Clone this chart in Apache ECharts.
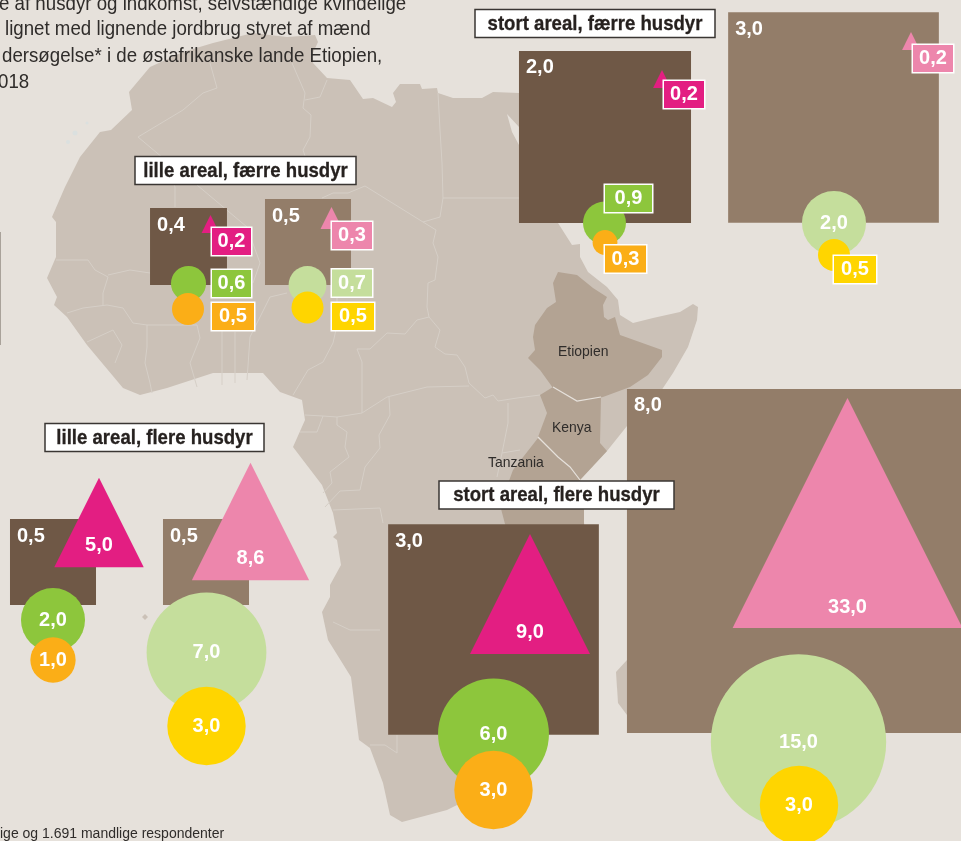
<!DOCTYPE html>
<html>
<head>
<meta charset="utf-8">
<title>Husdyr og indkomst</title>
<script src="https://cdn.jsdelivr.net/npm/echarts@6/dist/echarts.min.js"></script>
<style>
    html, body { margin: 0; padding: 0; background: #e6e1db; }
    #chart { width: 961px; height: 841px; overflow: hidden; }
</style>
</head>
<body>
<div id="chart"></div>
<script>
// values, one per panel block, in this order:
// lille/færre kvinder, lille/færre mænd, stort/færre kvinder, stort/færre mænd,
// lille/flere kvinder, lille/flere mænd, stort/flere kvinder, stort/flere mænd
var squareValues = [0.4, 0.5, 2.0, 3.0, 0.5, 0.5, 3.0, 8.0];
var triangleValues = [0.2, 0.3, 0.2, 0.2, 5.0, 8.6, 9.0, 33.0];
var bigCircleValues = [0.6, 0.7, 0.9, 2.0, 2.0, 7.0, 6.0, 15.0];
var smallCircleValues = [0.5, 0.5, 0.3, 0.5, 1.0, 3.0, 3.0, 3.0];

var panelTitles = ['lille areal, færre husdyr', 'stort areal, færre husdyr', 'lille areal, flere husdyr', 'stort areal, flere husdyr'];
var countryNames = ['Etiopien', 'Kenya', 'Tanzania'];
var introLines = [
    'e af husdyr og indkomst, selvstændige kvindelige',
    'lignet med lignende jordbrug styret af mænd',
    'dersøgelse* i de østafrikanske lande Etiopien,',
    '018'
];
var footerLine = 'ige og 1.691 mandlige respondenter';

// layout (page pixels), separate from the values
var squareAt = [[188.5, 246.5], [308, 242], [605, 137], [833.5, 117.5], [53, 562], [206, 562], [493.5, 629.5], [799, 561]];
var triangleAt = [[210.5, 224], [331.5, 218], [662, 79], [911, 41], [99, 522.5], [250.5, 521.5], [530, 594], [847.5, 513]];
var bigCircleAt = [[188.5, 283.5], [307.5, 285], [604.5, 223], [834, 223], [53, 620], [206.5, 652.5], [493.5, 734], [798.5, 742]];
var smallCircleAt = [[188, 309], [307.5, 307.5], [605, 242.5], [834, 255], [53, 660], [206.5, 726], [493.5, 790], [799, 805]];
// [dx, dy, box width] for a boxed label, [dx, dy] for a plain one
var triangleLabel = [[21, 17.5, 41], [20.5, 17.5, 42], [22, 15.5, 42], [22, 17.5, 42], [0, 22.5], [0, 36.5], [0, 38], [0, 94]];
var bigCircleLabel = [[43, 0, 41], [44.5, -2, 42], [24, -24.5, 49], [0, 0], [0, 0], [0, 0], [0, 0], [0, 0]];
var smallCircleLabel = [[45, 7.5, 44], [45.5, 9, 44], [20.5, 16.5, 43], [21, 14.5, 44], [0, 0], [0, 0], [0, 0], [0, 0]];

var squareColors = ['#6f5846', '#937d69'];
var triangleColors = ['#e31e82', '#ed86ac'];
var bigCircleColors = ['#8dc63c', '#c5de9c'];
var smallCircleColors = ['#fbae17', '#ffd500'];

var SQUARE_K = 14800, TRIANGLE_K = 1600, CIRCLE_K = 2050;
var NUM_FONT = '"Liberation Sans", Arial, sans-serif';
var TEXT_FONT = '"Liberation Sans", Arial, sans-serif';

function fmt(v) {
    return v.toFixed(1).replace('.', ',');
}

function markData(values, at, colors, labels) {
    return values.map(function (v, i) {
        var item = {
            value: [at[i][0], at[i][1], v],
            itemStyle: { color: colors[i % 2], opacity: 1 }
        };
        if (labels) {
            var l = labels[i];
            item.label = { offset: [l[0], l[1]] };
            if (l[2]) {
                item.label.backgroundColor = colors[i % 2];
                item.label.borderColor = '#fff';
                item.label.borderWidth = 1.5;
                item.label.width = l[2] - 2;
                item.label.height = 27;
                item.label.lineHeight = 28;
                item.label.align = 'center';
                item.label.verticalAlign = 'middle';
            }
        }
        return item;
    });
}

function markSeries(name, symbol, k, data, z, position) {
    return {
        name: name,
        type: 'scatter',
        symbol: symbol,
        symbolSize: function (val) { return Math.sqrt(val[2] * k); },
        data: data,
        z: z,
        silent: true,
        animation: false,
        label: {
            show: true,
            position: position || 'inside',
            distance: 7,
            color: '#fff',
            fontFamily: NUM_FONT,
            fontWeight: 'bold',
            fontSize: 20,
            formatter: function (p) { return fmt(p.value[2]); }
        }
    };
}

// map shapes are only backdrop, traced by eye in page pixels
var africa = [[52,217],[65,187],[80,157],[100,132],[111,130],[132,110],[129,92],[150,67],[183,52],[213,43],[253,33],[287,37],[315,35],[318,42],[312,55],[313,63],[327,78],[350,80],[363,99],[373,98],[392,107],[396,102],[393,93],[400,84],[420,84],[422,89],[437,88],[438,93],[453,98],[482,98],[493,92],[519,93],[535,100],[535,135],[519,127],[507,114],[512,132],[519,145],[558,223],[572,245],[580,244],[580,257],[588,272],[607,287],[618,300],[620,315],[633,323],[653,318],[680,312],[693,304],[698,307],[697,320],[688,347],[673,373],[657,397],[627,426],[607,451],[580,480],[582,510],[590,560],[590,640],[560,725],[530,745],[495,790],[457,805],[447,810],[402,822],[390,815],[383,783],[370,748],[359,740],[351,677],[328,640],[322,612],[330,597],[330,585],[341,565],[337,540],[333,537],[337,533],[333,513],[322,485],[293,447],[305,420],[302,400],[280,392],[263,373],[213,373],[167,388],[140,395],[123,388],[87,345],[67,317],[54,305],[57,297],[47,278],[56,257],[56,222]];
var madagascar = [[627,660],[616,672],[618,703],[627,715],[650,715],[650,660]];
var ethiopia = [[558,272],[577,275],[593,288],[607,297],[603,305],[604,317],[608,320],[615,317],[620,335],[662,350],[662,357],[648,375],[630,387],[603,397],[578,402],[553,388],[540,370],[528,358],[535,350],[533,337],[535,325],[547,308],[556,302],[553,283]];
var kenya = [[553,387],[577,401],[601,397],[600,443],[607,451],[580,480],[570,467],[558,457],[538,437],[547,413],[540,395]];
var tanzania = [[538,438],[558,457],[570,467],[580,480],[584,505],[584,530],[560,560],[520,550],[505,524],[500,505],[513,470]];
var highlightLines = [
    [[553,387],[577,401],[601,397]],
    [[538,437],[558,457],[570,467],[580,480]]
];
var borders = [
    [[438,93],[440,130],[442,163],[443,198],[440,217],[423,222]],
    [[443,198],[480,198],[519,198]],
    [[423,222],[365,186],[348,193],[333,193],[322,198]],
    [[292,63],[305,93],[303,108],[311,115],[310,137],[303,150],[305,156]],
    [[305,100],[320,97],[327,80]],
    [[423,222],[436,230],[433,243],[438,257],[435,280],[428,283],[427,307],[429,317]],
    [[429,317],[440,330],[435,347],[445,354],[457,355],[465,367],[469,383],[485,398],[493,395],[498,401],[517,398],[540,395]],
    [[429,317],[417,320],[405,334],[387,333],[370,349],[357,349]],
    [[337,290],[337,325],[333,343],[323,362],[308,370],[293,395]],
    [[357,349],[362,362],[362,413],[337,417]],
    [[362,413],[387,397],[427,387],[469,386]],
    [[389,397],[390,415],[379,435],[380,448],[365,467],[360,490],[340,491],[325,507]],
    [[305,415],[323,416],[337,417]],
    [[323,416],[317,432],[300,432]],
    [[337,417],[337,425],[347,432],[345,447],[349,457],[330,472],[332,483],[323,493]],
    [[508,403],[508,423],[502,453],[497,477]],
    [[502,453],[520,450]],
    [[333,510],[380,508],[383,523]],
    [[333,622],[350,630],[380,630]],
    [[370,745],[385,745],[397,753],[397,735]],
    [[138,137],[153,128],[183,110],[203,93],[217,88],[210,63]],
    [[138,137],[163,158],[175,187],[175,207]],
    [[197,185],[247,227],[260,263],[253,283]],
    [[56,260],[88,260],[95,270],[108,277],[103,293],[103,305]],
    [[108,275],[130,270],[150,273]],
    [[67,313],[83,308],[107,305],[123,308],[133,323],[147,325],[197,325]],
    [[147,325],[147,347],[145,363],[150,383],[152,393]],
    [[87,342],[113,330],[122,345],[115,363]],
    [[197,325],[200,338],[190,363],[197,387]],
    [[222,330],[222,385]],
    [[235,332],[235,383]],
    [[250,337],[247,380]],
    [[250,337],[270,297],[287,293]]
];

function polyElement(points, fill, z) {
    return {
        type: 'polygon',
        z: z,
        silent: true,
        shape: { points: points },
        style: { fill: fill }
    };
}

function textElement(text, x, y, size, weight, color, z, squeeze) {
    return {
        type: 'text',
        x: x,
        y: y,
        scaleX: squeeze,
        z: z,
        silent: true,
        style: {
            text: text,
            fontFamily: TEXT_FONT,
            fontSize: size,
            fontWeight: weight,
            fill: color,
            verticalAlign: 'middle'
        }
    };
}

function titleBox(text, left, top, width) {
    return [
        { type: 'rect', z: 20, silent: true, shape: { x: left, y: top, width: width, height: 28 },
          style: { fill: '#fff', stroke: '#3a3633', lineWidth: 1.5 } },
        { type: 'text', x: left + width / 2, y: top + 14.5, scaleX: 0.885, z: 21, silent: true,
          style: { text: text, fontFamily: TEXT_FONT, fontSize: 21, fontWeight: 'bold', fill: '#26211f',
                   stroke: '#26211f', lineWidth: 0.3, align: 'center', verticalAlign: 'middle' } }
    ];
}

var elements = [
    polyElement(africa, '#cbc1b7', 0),
    polyElement(madagascar, '#cbc1b7', 0),
    polyElement([[145,614],[148,617],[145,620],[142,617]], '#cbc1b7', 0),
    polyElement(tanzania, '#b3a393', 1),
    polyElement(ethiopia, '#b3a393', 1),
    polyElement(kenya, '#b3a393', 1),
    { type: 'rect', z: 1, silent: true, shape: { x: 0, y: 232, width: 1, height: 113 }, style: { fill: '#a9a29a' } },
    { type: 'circle', z: 1, silent: true, shape: { cx: 68, cy: 142, r: 2 }, style: { fill: '#dbe0df' } },
    { type: 'circle', z: 1, silent: true, shape: { cx: 75, cy: 133, r: 2.5 }, style: { fill: '#dbe0df' } },
    { type: 'circle', z: 1, silent: true, shape: { cx: 87, cy: 123, r: 1.5 }, style: { fill: '#dbe0df' } }
];
borders.forEach(function (b) {
    elements.push({ type: 'polyline', z: 1, silent: true, shape: { points: b }, style: { stroke: '#d6cfc7', lineWidth: 1, fill: 'none' } });
});
highlightLines.forEach(function (b) {
    elements.push({ type: 'polyline', z: 2, silent: true, shape: { points: b }, style: { stroke: '#e6e1db', lineWidth: 1.2, fill: 'none' } });
});
introLines.forEach(function (line, i) {
    var xs = [-1, 5, 2, -2], ys = [4, 29, 56, 82];
    elements.push(textElement(line, xs[i], ys[i], 21, 'normal', '#2f2c2a', 22, 0.89));
});
elements.push(textElement(footerLine, 0, 834, 14, 'normal', '#2f2c2a', 22, 1));
elements.push(textElement(countryNames[0], 558, 352, 15, 'normal', '#2f2c2a', 3, 0.93));
elements.push(textElement(countryNames[1], 552, 428, 15, 'normal', '#2f2c2a', 3, 0.93));
elements.push(textElement(countryNames[2], 488, 463, 15, 'normal', '#2f2c2a', 3, 0.93));
elements = elements.concat(titleBox(panelTitles[0], 135, 156.5, 221));
elements = elements.concat(titleBox(panelTitles[1], 475, 9.5, 240));
elements = elements.concat(titleBox(panelTitles[2], 45, 423.5, 219));
elements = elements.concat(titleBox(panelTitles[3], 439, 481, 235));

var chart = echarts.init(document.getElementById('chart'), null, { renderer: 'canvas' });
chart.setOption({
    animation: false,
    backgroundColor: '#e6e1db',
    grid: { left: 0, right: 0, top: 0, bottom: 0 },
    tooltip: { show: false },
    xAxis: { type: 'value', min: 0, max: 961, show: false },
    yAxis: { type: 'value', min: 0, max: 841, inverse: true, show: false },
    graphic: { elements: elements },
    series: [
        markSeries('jord', 'rect', SQUARE_K, markData(squareValues, squareAt, squareColors), 5, 'insideTopLeft'),
        markSeries('husdyr', 'triangle', TRIANGLE_K, markData(triangleValues, triangleAt, triangleColors, triangleLabel), 6),
        markSeries('indkomst', 'circle', CIRCLE_K, markData(bigCircleValues, bigCircleAt, bigCircleColors, bigCircleLabel), 7),
        markSeries('andet', 'circle', CIRCLE_K, markData(smallCircleValues, smallCircleAt, smallCircleColors, smallCircleLabel), 8)
    ]
});
</script>
</body>
</html>
